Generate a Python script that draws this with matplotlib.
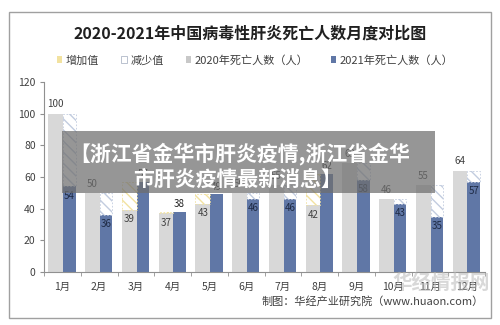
import matplotlib
matplotlib.use("Agg")
import matplotlib.pyplot as plt
from matplotlib.patches import Rectangle
import numpy as np

plt.rcParams['font.family'] = ['Noto Sans CJK SC', 'DejaVu Sans']
plt.rcParams['hatch.linewidth'] = 1.0

months = ['1月', '2月', '3月', '4月', '5月', '6月', '7月', '8月', '9月', '10月', '11月', '12月']
deaths_2020 = [100, 50, 39, 37, 43, 50, 55, 42, 69, 46, 55, 64]
deaths_2021 = [54, 36, 57, 38, 49, 46, 46, 62, 58, 43, 35, 57]

title = '2020-2021年中国病毒性肝炎死亡人数月度对比图'
legend_labels = ['增加值', '减少值', '2020年死亡人数（人）', '2021年死亡人数（人）']
source = '制图：华经产业研究院（www.huaon.com）'
banner_lines = ['【浙江省金华市肝炎疫情,浙江省金华', '市肝炎疫情最新消息】']

c2020 = '#D8D8D8'
c2021 = '#6077A6'
c_inc = '#F2E2A0'
c_dec = '#C2CCDF'

a20 = np.array(deaths_2020)
a21 = np.array(deaths_2021)
x = np.arange(len(months))
increase = np.where(a21 > a20, a21 - a20, 0)
decrease = np.where(a21 < a20, a20 - a21, 0)

fig = plt.figure(figsize=(5, 3.25), dpi=100)
fig.patch.set_facecolor('white')

# outer frame
fig.patches.append(Rectangle((0.018, 0.022), 0.964, 0.941, transform=fig.transFigure,
                             fill=False, edgecolor='#A0A0A0', linewidth=1.0))

ax = fig.add_axes([0.088, 0.163, 0.882, 0.585])

w20, w21 = 0.40, 0.34
x20 = x - 0.18
x21 = x + 0.19

ax.bar(x20, a20, width=w20, color=c2020, zorder=2)
ax.bar(x20, increase, bottom=a20, width=w20, color='white', edgecolor=c_inc,
       hatch='\\\\\\', linewidth=0, zorder=2)
ax.bar(x21, a21, width=w21, color=c2021, zorder=2)
ax.bar(x21, decrease, bottom=a21, width=w21, color='white', edgecolor=c_dec,
       hatch='\\\\\\', linewidth=0, zorder=2)
# dashed outline of the difference boxes
for xi, b, h in zip(x20, a20, increase):
    if h > 0:
        ax.add_patch(Rectangle((xi - w20 / 2, b), w20, h, fill=False,
                               edgecolor=c_inc, linestyle=(0, (2, 2)), linewidth=0.6, zorder=3))
for xi, b, h in zip(x21, a21, decrease):
    if h > 0:
        ax.add_patch(Rectangle((xi - w21 / 2, b), w21, h, fill=False,
                               edgecolor=c_dec, linestyle=(0, (2, 2)), linewidth=0.6, zorder=3))

# value labels
for i in range(len(months)):
    v0, v1 = a20[i], a21[i]
    if v1 > v0:
        ax.annotate(str(v0), (x20[i], v0), xytext=(0, -3), textcoords='offset points',
                    ha='center', va='top', fontsize=7, color='#404040', zorder=4)
        ax.annotate(str(v1), (x21[i], v1), xytext=(0, 2), textcoords='offset points',
                    ha='center', va='bottom', fontsize=7, color='#202020', zorder=4)
    else:
        ax.annotate(str(v0), (x20[i], v0), xytext=(0, 3), textcoords='offset points',
                    ha='center', va='bottom', fontsize=7, color='#404040', zorder=4)
        ax.annotate(str(v1), (x21[i], v1), xytext=(0, -3), textcoords='offset points',
                    ha='center', va='top', fontsize=7, color='#1E2A44', zorder=4)

ax.set_xlim(-0.5, len(months) - 0.5)
ax.set_ylim(0, 120)
ax.set_yticks(np.arange(0, 121, 20))
ax.set_xticks(x)
ax.set_xticklabels(months)
ax.set_xticks(np.arange(-0.5, len(months), 1), minor=True)
ax.tick_params(axis='x', which='major', length=0, pad=7, labelsize=7.5, colors='#404040')
ax.tick_params(axis='x', which='minor', length=3, color='#909090')
ax.tick_params(axis='y', length=3, color='#909090', labelsize=7.5, labelcolor='#404040', pad=3)
for s in ['top', 'right']:
    ax.spines[s].set_visible(False)
for s in ['left', 'bottom']:
    ax.spines[s].set_color('#909090')
    ax.spines[s].set_linewidth(0.8)

fig.text(0.5, 0.898, title, ha='center', va='center', fontsize=11.5, fontweight='bold',
         color='#202020')

# legend row
handles = [
    Rectangle((0, 0), 1, 1, facecolor=c_inc, edgecolor='none'),
    Rectangle((0, 0), 1, 1, facecolor='white', edgecolor='#B0B8C8', linewidth=0.6),
    Rectangle((0, 0), 1, 1, facecolor='#C8C8C8', edgecolor='none'),
    Rectangle((0, 0), 1, 1, facecolor=c2021, edgecolor='none'),
]
fig.legend(handles, legend_labels, loc='center', bbox_to_anchor=(0.51, 0.815), ncol=4,
           frameon=False, fontsize=8, handlelength=0.5, handleheight=0.5,
           handletextpad=0.3, columnspacing=2.0, labelcolor='#404040')

fig.text(0.968, 0.072, source, ha='right', va='center', fontsize=8, color='#404040')

# watermark
fig.text(0.98, 0.128, '华经情报网', ha='right', va='center', fontsize=14, color='#B8B8B8',
         alpha=0.55, fontweight='bold')

# overlay banner
fig.patches.append(Rectangle((0.124, 0.406), 0.746, 0.191, transform=fig.transFigure,
                             facecolor='#6E6E6E', alpha=0.72, edgecolor='none', zorder=10))
fig.text(0.48, 0.528, banner_lines[0], ha='center', va='center', fontsize=15,
         fontweight='bold', color='white', zorder=11)
fig.text(0.476, 0.448, banner_lines[1], ha='center', va='center', fontsize=15,
         fontweight='bold', color='white', zorder=11)

fig.savefig('out.png', dpi=100)
